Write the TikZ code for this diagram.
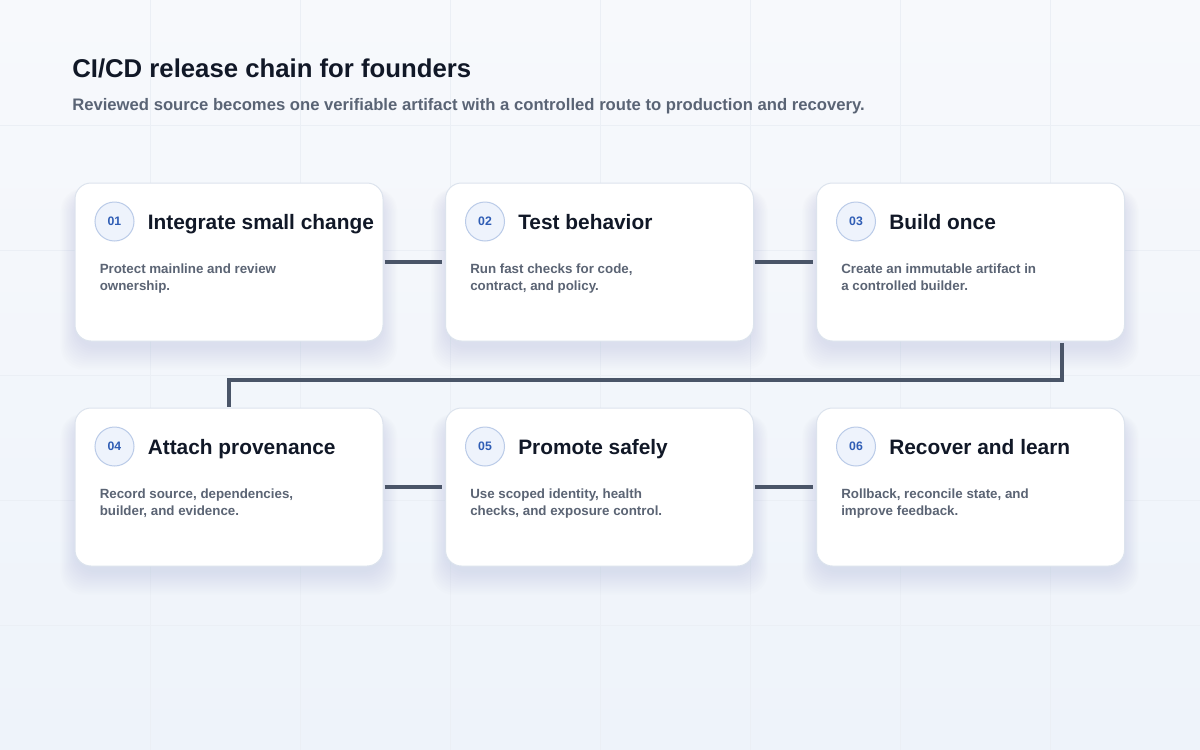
\documentclass[tikz,border=0pt]{standalone}
\usepackage{fontspec}
\setmainfont{Liberation Sans}
\usetikzlibrary{calc}
\definecolor{bgtop}{HTML}{F7F9FC}
\definecolor{bgbot}{HTML}{EEF3FA}
\definecolor{gridc}{HTML}{EBEFF5}
\definecolor{ink}{HTML}{111827}
\definecolor{subink}{HTML}{5A6475}
\definecolor{descink}{HTML}{5B6474}
\definecolor{conn}{HTML}{4A5568}
\definecolor{cardline}{HTML}{DCE3ED}
\definecolor{badgefill}{HTML}{EEF3FC}
\definecolor{badgeline}{HTML}{BACBE8}
\definecolor{badgeink}{HTML}{2F5DB5}
\definecolor{shadowc}{HTML}{A9B7CF}
\pgfdeclarelayer{back}
\pgfdeclarelayer{shade}
\pgfsetlayers{back,shade,main}
\newcommand\makecard[6]{%
  \node[card] (#1) at (#2,#3) {};
  \node[badge] (#1b) at ($(#1.north west)+(40,39)$) {#4};
  \node[cardtitle] (#1t) at ($(#1.north west)+(73,47)$) {#5};
  \node[carddesc] (#1d) at ($(#1.north west)+(25,81)$) {#6};
  \begin{pgfonlayer}{shade}
    \foreach \s in {1,...,12}{
      \fill[shadowc,opacity=0.022,rounded corners=16pt]
        ($(#1.north west)+(-1.3*\s+2,10-0.3*\s)$) rectangle ($(#1.south east)+(1.3*\s-2,4+2*\s)$);
    }
  \end{pgfonlayer}
}
\begin{document}
\begin{tikzpicture}[x=0.75pt,y=-0.75pt,
  card/.style={rectangle,rounded corners=12pt,fill=white,draw=cardline,line width=0.75pt,
    minimum width=231pt,minimum height=118.5pt,inner sep=0pt},
  badge/.style={circle,minimum size=29.25pt,inner sep=0pt,fill=badgefill,draw=badgeline,
    line width=0.75pt,text=badgeink,font=\fontsize{9.2}{10}\selectfont\bfseries},
  cardtitle/.style={anchor=base west,inner sep=0pt,text=ink,font=\fontsize{15.65}{18}\selectfont\bfseries},
  carddesc/.style={anchor=north west,inner sep=0pt,align=left,text=descink,font=\fontsize{10}{12.75}\selectfont\bfseries},
  conn/.style={draw=conn,line width=3pt,line join=miter},
  gridline/.style={draw=gridc,line width=0.75pt}]
\useasboundingbox (0,0) rectangle (1200,750);
\begin{pgfonlayer}{back}
  \shade[top color=bgtop,bottom color=bgbot] (0,0) rectangle (1200,750);
  \foreach \x in {150,300,...,1050} \draw[gridline] (\x,0) -- (\x,750);
  \foreach \y in {125,250,...,625} \draw[gridline] (0,\y) -- (1200,\y);
\end{pgfonlayer}

\node[anchor=base west,inner sep=0pt,text=ink,font=\fontsize{19.3}{23}\selectfont\bfseries] (title) at (72,77) {CI/CD release chain for founders};
\node[anchor=base west,inner sep=0pt,text=subink,font=\fontsize{12.5}{15}\selectfont\bfseries] (subtitle) at (72,110) {Reviewed source becomes one verifiable artifact with a controlled route to production and recovery.};

\makecard{c1}{229}{262}{01}{Integrate small change}{Protect mainline and review\\ownership.}
\makecard{c2}{599.5}{262}{02}{Test behavior}{Run fast checks for code,\\contract, and policy.}
\makecard{c3}{970.5}{262}{03}{Build once}{Create an immutable artifact in\\a controlled builder.}
\makecard{c4}{229}{487}{04}{Attach provenance}{Record source, dependencies,\\builder, and evidence.}
\makecard{c5}{599.5}{487}{05}{Promote safely}{Use scoped identity, health\\checks, and exposure control.}
\makecard{c6}{970.5}{487}{06}{Recover and learn}{Rollback, reconcile state, and\\improve feedback.}

\draw[conn,shorten <=0.75pt,shorten >=2.25pt] (c1.east) -- (c2.west);
\draw[conn,shorten <=0.75pt,shorten >=2.25pt] (c2.east) -- (c3.west);
\draw[conn,shorten <=0.75pt,shorten >=2.25pt] (c4.east) -- (c5.west);
\draw[conn,shorten <=0.75pt,shorten >=2.25pt] (c5.east) -- (c6.west);
\draw[conn,shorten <=1pt,shorten >=0.75pt] ([xshift=68.6pt]c3.south) -- ++(0,38) -| (c4.north);
\end{tikzpicture}
\end{document}
